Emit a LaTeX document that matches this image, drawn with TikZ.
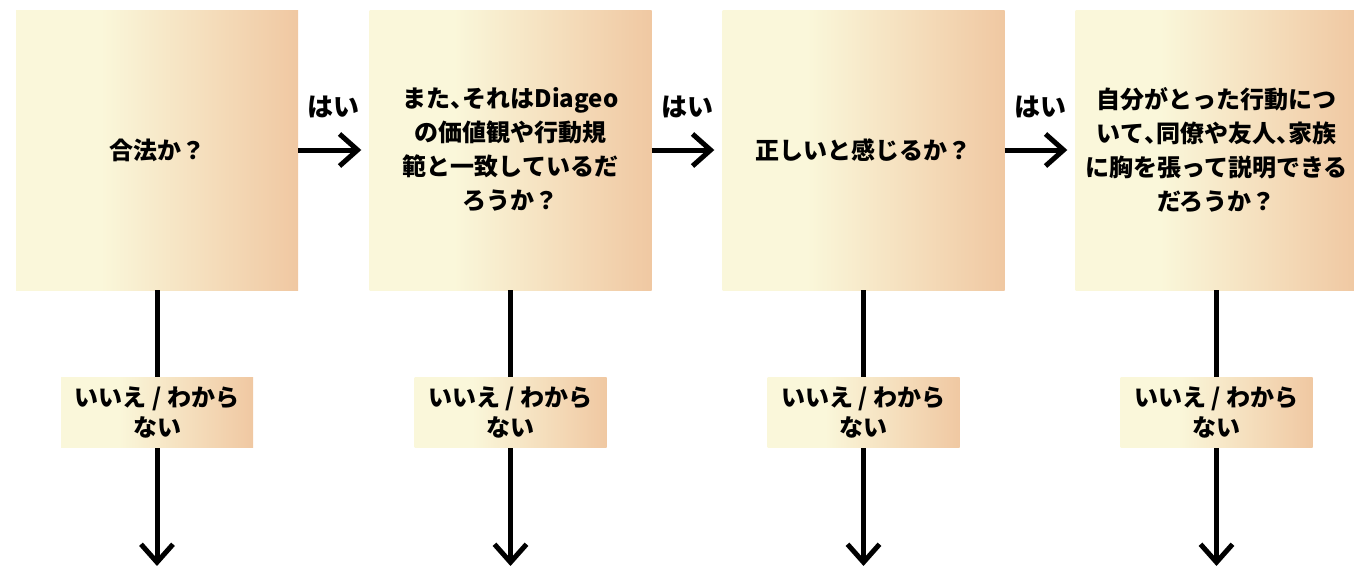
\documentclass[tikz,border=0pt]{standalone}
\usepackage{fontspec}
\setmainfont{Noto Sans CJK JP}
\usetikzlibrary{arrows.meta}
\definecolor{cA}{RGB}{250,247,218}
\definecolor{cB}{RGB}{240,200,162}
\pgfdeclarehorizontalshading{boxshade}{100bp}{color(0bp)=(cA); color(25bp)=(cA); color(40bp)=(cA); color(75bp)=(cB); color(100bp)=(cB)}
\newcommand{\hc}{\makebox[0.5em][l]{、}}
\tikzset{
  qbox/.style={minimum width=282pt, minimum height=280pt, shading=boxshade, align=center, inner sep=0pt, font=\fontsize{24}{34}\selectfont\bfseries},
  nbox/.style={minimum width=192pt, minimum height=70pt, shading=boxshade, align=center, inner sep=0pt, font=\fontsize{24}{30}\selectfont\bfseries},
  arr/.style={line width=5pt, -{Straight Barb[length=18pt,width=32pt]}},
  yes/.style={font=\fontsize{26}{30}\selectfont\bfseries}
}
\begin{document}
\begin{tikzpicture}[x=1pt,y=-1pt]
\useasboundingbox (0,0) rectangle (1354,565);
\node[qbox] (q1) at (157,150) {合法か？};
\node[qbox] (q2) at (510.5,150) {また\hc それはDiageo\\の価値観や行動規\\範と一致しているだ\\ろうか？};
\node[qbox] (q3) at (863.5,150) {正しいと感じるか？};
\node[qbox] (q4) at (1216.5,150) {自分がとった行動につ\\いて\hc 同僚や友人\hc 家族\\に胸を張って説明できる\\だろうか？};
\foreach \a/\b in {q1/q2,q2/q3,q3/q4}{
  \draw[arr, shorten >=8pt] (\a.east) -- (\b.west) node[midway, yes, yshift=43pt] {はい};
}
\foreach \i/\x in {1/157,2/510.5,3/863.5,4/1216.5}{
  \coordinate (e\i) at (\x,566);
  \draw[arr] (q\i.south) -- (e\i);
  \node[nbox] (n\i) at (\x,412) {いいえ / わから\\ない};
}
\end{tikzpicture}
\end{document}
